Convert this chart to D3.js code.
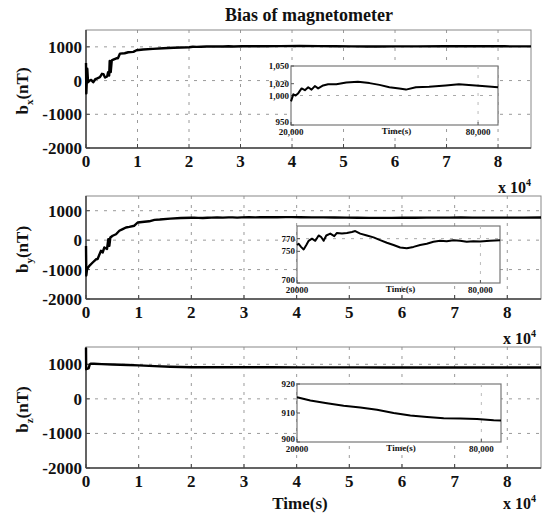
<!DOCTYPE html>
<html><head><meta charset="utf-8">
<script src="https://cdn.jsdelivr.net/npm/d3@7"></script>
<style>
body{margin:0;background:#fff}
text{font-family:"Liberation Serif","Times New Roman",serif;font-weight:bold;fill:#111}
</style>
</head><body><svg id="c" width="542" height="515"></svg>
<script>
// ---------- data ----------
const title = "Bias of magnetometer";
const timeTicks = [0, 10000, 20000, 30000, 40000, 50000, 60000, 70000, 80000];
const timeTickLabels = ["0","1","2","3","4","5","6","7","8"];
const mainYTicks = [-2000, -1000, 0, 1000];
const mainYTickLabels = ["-2000","-1000","0","1000"];

// b_x : start-up transient (t in s, value in nT)
const bxEarly = [[0,520],[60,-380],[250,350],[400,-50],[700,0],[1000,20],[1400,-50],[1800,40],[2100,60],[2700,100],[3100,200],[3400,190],[3700,90],[4100,120],[4300,250],[4500,150],[4600,580],[4800,250],[5000,600],[5300,620],[5900,660],[6200,660],[6600,800],[7500,810],[8200,840],[9200,850],[9800,900],[11100,920],[13000,940],[15000,960],[17000,975]];
// b_x : zoomed part (inset)
const bxInset = [[20000,990],[20740,1002],[21490,1000],[22340,1004],[23400,1012],[24460,1009],[25520,1014],[26590,1010],[27650,1016],[28710,1012],[30310,1017],[31900,1019],[34560,1019],[37740,1022],[41460,1023.5],[45180,1021],[48370,1018],[51550,1014],[54740,1012],[56870,1010],[60050,1014],[64300,1015],[69610,1017],[73860,1019],[77050,1018],[81300,1016],[86400,1014]];
const bxInsetTicks = [950, 1000, 1020, 1050];
const bxInsetTickLabels = ["950", "1,000", "1,020", "1,050"];

// b_y
const byEarly = [[0,-200],[60,-1200],[190,-990],[630,-875],[1270,-760],[1900,-650],[2200,-640],[2850,-360],[3160,-420],[3480,-250],[3990,-300],[4240,30],[4430,-190],[4620,90],[5060,150],[5700,200],[6330,320],[6960,375],[7590,430],[8230,450],[9180,490],[9810,600],[11080,625],[12000,640],[13000,690],[14000,700],[16000,730],[18000,750]];
const byInset = [[20000,760],[20540,762],[21310,757],[22180,753],[23050,760],[23810,766.6],[24900,770],[25990,766.6],[27080,775],[27840,773],[28710,766.6],[29580,775],[30890,778],[32190,774],[33060,779],[34700,778],[36330,779],[37960,780.6],[39050,782],[40680,778],[42860,775],[45040,772],[47210,767.6],[49390,763.5],[51570,760],[53740,756],[55920,755],[58100,757],[60280,760],[62450,762],[64630,765],[66810,766.6],[68980,766],[71160,767.6],[73340,766.6],[75520,765],[77690,766],[79870,765.5],[83130,766.6],[86400,767.6]];
const byInsetTicks = [700, 750, 770];
const byInsetTickLabels = ["700", "750", "770"];

// b_z
const bzEarly = [[0,1480],[30,860],[200,870],[500,880],[700,990],[900,1020],[1500,1015],[3000,1005],[5000,995],[8000,980],[10000,968],[13000,948],[16000,930]];
const bzInset = [[20000,915.4],[24340,914.3],[29760,913.4],[35190,912.5],[40610,911.9],[46040,911.1],[51460,910],[56890,909.1],[62310,908.6],[67740,908.2],[73160,908.1],[78590,907.9],[84020,907.5],[86400,907.4]];
const bzInsetTicks = [900, 910, 920];
const bzInsetTickLabels = ["900", "910", "920"];

const insetXTicks = [20000, 80000];
const insetXTickLabels = [["20,000","80,000"],["20000","80,000"],["20000","80,000"]];

// ---------- layout ----------
const panels = [
  {name:"x", early:bxEarly, inset:bxInset, l:86, r:531, t:30, b:148,
   ins:{l:291, r:498, t:66, b:125, dom:[950,1050], ticks:bxInsetTicks, labels:bxInsetTickLabels, grid:[1000]}},
  {name:"y", early:byEarly, inset:byInset, l:86, r:541, t:196, b:299,
   ins:{l:297, r:500, t:226, b:283, dom:[700,790], ticks:byInsetTicks, labels:byInsetTickLabels, grid:[770]}},
  {name:"z", early:bzEarly, inset:bzInset, l:86, r:541, t:347, b:468,
   ins:{l:297, r:501, t:384, b:442, dom:[900,920], ticks:bzInsetTicks, labels:bzInsetTickLabels, grid:[]}}
];

const svg = d3.select("#c");

svg.append("text").attr("x", 309).attr("y", 21).attr("text-anchor","middle")
  .style("font-size","18px").text(title);

panels.forEach((p, i) => {
  const g = svg.append("g");
  const x = d3.scaleLinear().domain([0, 86400]).range([p.l, p.r]);
  const y = d3.scaleLinear().domain([-2000, 1500]).range([p.b, p.t]);

  // grid
  g.selectAll(".vg").data(timeTicks.slice(1)).join("line")
    .attr("x1", d => x(d)).attr("x2", d => x(d)).attr("y1", p.t).attr("y2", p.b)
    .attr("stroke", "#9a9a9a").attr("stroke-width", 1).attr("stroke-dasharray", "3,6");
  g.selectAll(".hg").data(mainYTicks.slice(1)).join("line")
    .attr("x1", p.l).attr("x2", p.r).attr("y1", d => y(d)).attr("y2", d => y(d))
    .attr("stroke", "#9a9a9a").attr("stroke-width", 1).attr("stroke-dasharray", "3,6");

  // frame
  g.append("rect").attr("x", p.l).attr("y", p.t).attr("width", p.r - p.l).attr("height", p.b - p.t)
    .attr("fill", "none").attr("stroke", "#888").attr("stroke-width", 1);
  g.append("line").attr("x1", p.l).attr("x2", p.l).attr("y1", p.t).attr("y2", p.b)
    .attr("stroke", "#444").attr("stroke-width", 1.5);
  g.append("line").attr("x1", p.l).attr("x2", p.r).attr("y1", p.b).attr("y2", p.b)
    .attr("stroke", "#444").attr("stroke-width", 1.5);

  // ticks
  g.selectAll(".xt").data(timeTicks).join("line")
    .attr("x1", d => x(d)).attr("x2", d => x(d)).attr("y1", p.b).attr("y2", p.b - 4)
    .attr("stroke", "#444");
  g.selectAll(".yt").data(mainYTicks).join("line")
    .attr("x1", p.l).attr("x2", p.l + 4).attr("y1", d => y(d)).attr("y2", d => y(d))
    .attr("stroke", "#444");

  // tick labels
  g.selectAll(".xl").data(timeTicks).join("text")
    .attr("x", d => x(d)).attr("y", p.b + 19).attr("text-anchor", "middle")
    .style("font-size", "17px").text((d, k) => timeTickLabels[k]);
  g.selectAll(".yl").data(mainYTicks).join("text")
    .attr("x", p.l - 4).attr("y", d => y(d) + 6).attr("text-anchor", "end")
    .style("font-size", "17px").text((d, k) => mainYTickLabels[k]);

  // x 10^4
  const ex = g.append("text").attr("x", Math.min(p.r, 536)).attr("y", Math.min(p.b + 45, 509))
    .attr("text-anchor", "end").style("font-size", "16px");
  ex.append("tspan").text("x 10");
  ex.append("tspan").attr("dy", -7).style("font-size", "10px").text("4");

  // y label
  const cy = (p.t + p.b) / 2 + 2;
  const yl = g.append("text").attr("transform", `translate(28,${cy}) rotate(-90)`)
    .attr("text-anchor", "middle").style("font-size", "17px");
  yl.append("tspan").text("b");
  yl.append("tspan").attr("dy", 5).style("font-size", "11px").text(p.name);
  yl.append("tspan").attr("dy", -5).text("(nT)");

  // main curve
  const series = p.early.concat(p.inset);
  const line = d3.line().x(d => x(d[0])).y(d => y(d[1]));
  g.append("path").datum(series).attr("d", line)
    .attr("fill", "none").attr("stroke", "#000").attr("stroke-width", 2.4).attr("stroke-linejoin", "round");

  // inset
  const q = p.ins;
  const ix = d3.scaleLinear().domain([20000, 86400]).range([q.l, q.r]);
  const iy = d3.scaleLinear().domain(q.dom).range([q.b, q.t]);
  const ig = svg.append("g");
  ig.append("rect").attr("x", q.l).attr("y", q.t).attr("width", q.r - q.l).attr("height", q.b - q.t)
    .attr("fill", "#fff").attr("stroke", "#777").attr("stroke-width", 1.2);
  ig.selectAll(".ig").data(q.grid).join("line")
    .attr("x1", q.l).attr("x2", q.r).attr("y1", d => iy(d)).attr("y2", d => iy(d))
    .attr("stroke", "#aaa").attr("stroke-dasharray", "3,6");
  ig.append("line").attr("x1", ix(80000)).attr("x2", ix(80000)).attr("y1", q.t).attr("y2", q.b)
    .attr("stroke", "#bbb").attr("stroke-dasharray", "3,6");
  ig.selectAll(".iyt").data(q.ticks).join("line")
    .attr("x1", q.l).attr("x2", q.l + 3).attr("y1", d => iy(d)).attr("y2", d => iy(d)).attr("stroke", "#555");
  ig.selectAll(".ixt").data(insetXTicks).join("line")
    .attr("x1", d => ix(d)).attr("x2", d => ix(d)).attr("y1", q.b).attr("y2", q.b - 3).attr("stroke", "#555");
  ig.selectAll(".iyl").data(q.ticks).join("text")
    .attr("x", q.l - 2).attr("y", (d, k) => iy(d) + (k === 0 ? 0 : 3)).attr("text-anchor", "end")
    .style("font-size", "9px").text((d, k) => q.labels[k]);
  ig.selectAll(".ixl").data(insetXTicks).join("text")
    .attr("x", d => ix(d)).attr("y", q.b + 10).attr("text-anchor", "middle")
    .style("font-size", "9px").text((d, k) => insetXTickLabels[i][k]);
  ig.append("text").attr("x", (q.l + q.r) / 2 + 2).attr("y", q.b + 9).attr("text-anchor", "middle")
    .style("font-size", "9px").text("Time(s)");
  const iline = d3.line().x(d => ix(d[0])).y(d => iy(d[1]));
  ig.append("path").datum(p.inset).attr("d", iline)
    .attr("fill", "none").attr("stroke", "#000").attr("stroke-width", 2).attr("stroke-linejoin", "round");
});

// bottom x label
svg.append("text").attr("x", 300).attr("y", 509).attr("text-anchor", "middle")
  .style("font-size", "17px").text("Time(s)");
</script></body></html>
